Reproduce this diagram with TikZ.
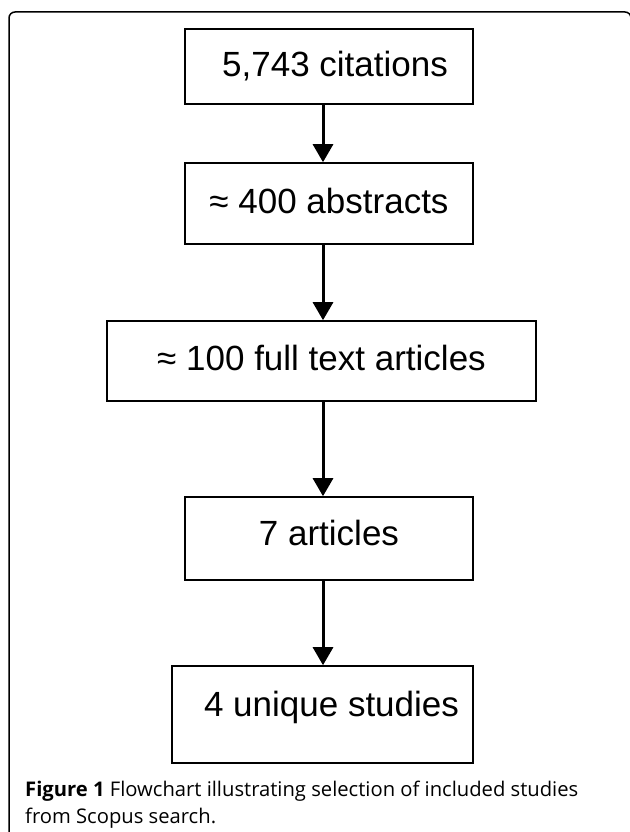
\documentclass[tikz,border=0pt]{standalone}
\usepackage{fontspec}
\setmainfont{Liberation Sans}
\newfontfamily\capfont{Open Sans}
\usetikzlibrary{arrows.meta}
\begin{document}
\begin{tikzpicture}[x=1pt,y=-1pt,
  box/.style={draw, line width=1.6pt, inner sep=0pt,
    font=\fontsize{35}{40}\selectfont, text height=25pt, text depth=0pt},
  flow/.style={line width=3pt, -{Triangle[length=18pt,width=20pt]}},
  frame/.style={line width=1.5pt, rounded corners=6pt}]
\useasboundingbox (0,0) rectangle (629,832);
\draw[frame] (9,845) -- (9,12) -- (631,12) -- (631,845);
\coordinate (axis) at (323,0);
\node[box, minimum width=288pt, minimum height=75pt] (b1) at (329,66.5)
  {\hspace*{12pt}\raisebox{2.5pt}{5,743 citations}};
\node[box, minimum width=288pt, minimum height=81pt] (b2) at (329,203.5)
  {\raisebox{2.5pt}{≈ 400 abstracts}};
\node[box, minimum width=429pt, minimum height=80pt] (b3) at (321.5,361)
  {\raisebox{3.5pt}{≈ 100 full text articles}};
\node[box, minimum width=288pt, minimum height=83pt] (b4) at (329,538.5)
  {\raisebox{5.5pt}{7 articles}};
\node[box, minimum width=301pt, minimum height=97pt] (b5) at (322.5,714.5)
  {\hspace*{18pt}\raisebox{10.5pt}{4 unique studies}};
\draw[flow] (b1.south -| axis) -- (b2.north -| axis);
\draw[flow] (b2.south -| axis) -- (b3.north -| axis);
\draw[flow] (b3.south -| axis) -- (b4.north -| axis);
\draw[flow] (b4.south -| axis) -- (b5.north -| axis);
\node[anchor=north west, inner sep=0pt, align=left,
  font=\capfont\fontsize{20.2}{27}\selectfont] (cap) at (25,781)
  {\textbf{Figure 1} Flowchart illustrating selection of included studies\\
   from Scopus search.};
\end{tikzpicture}
\end{document}
